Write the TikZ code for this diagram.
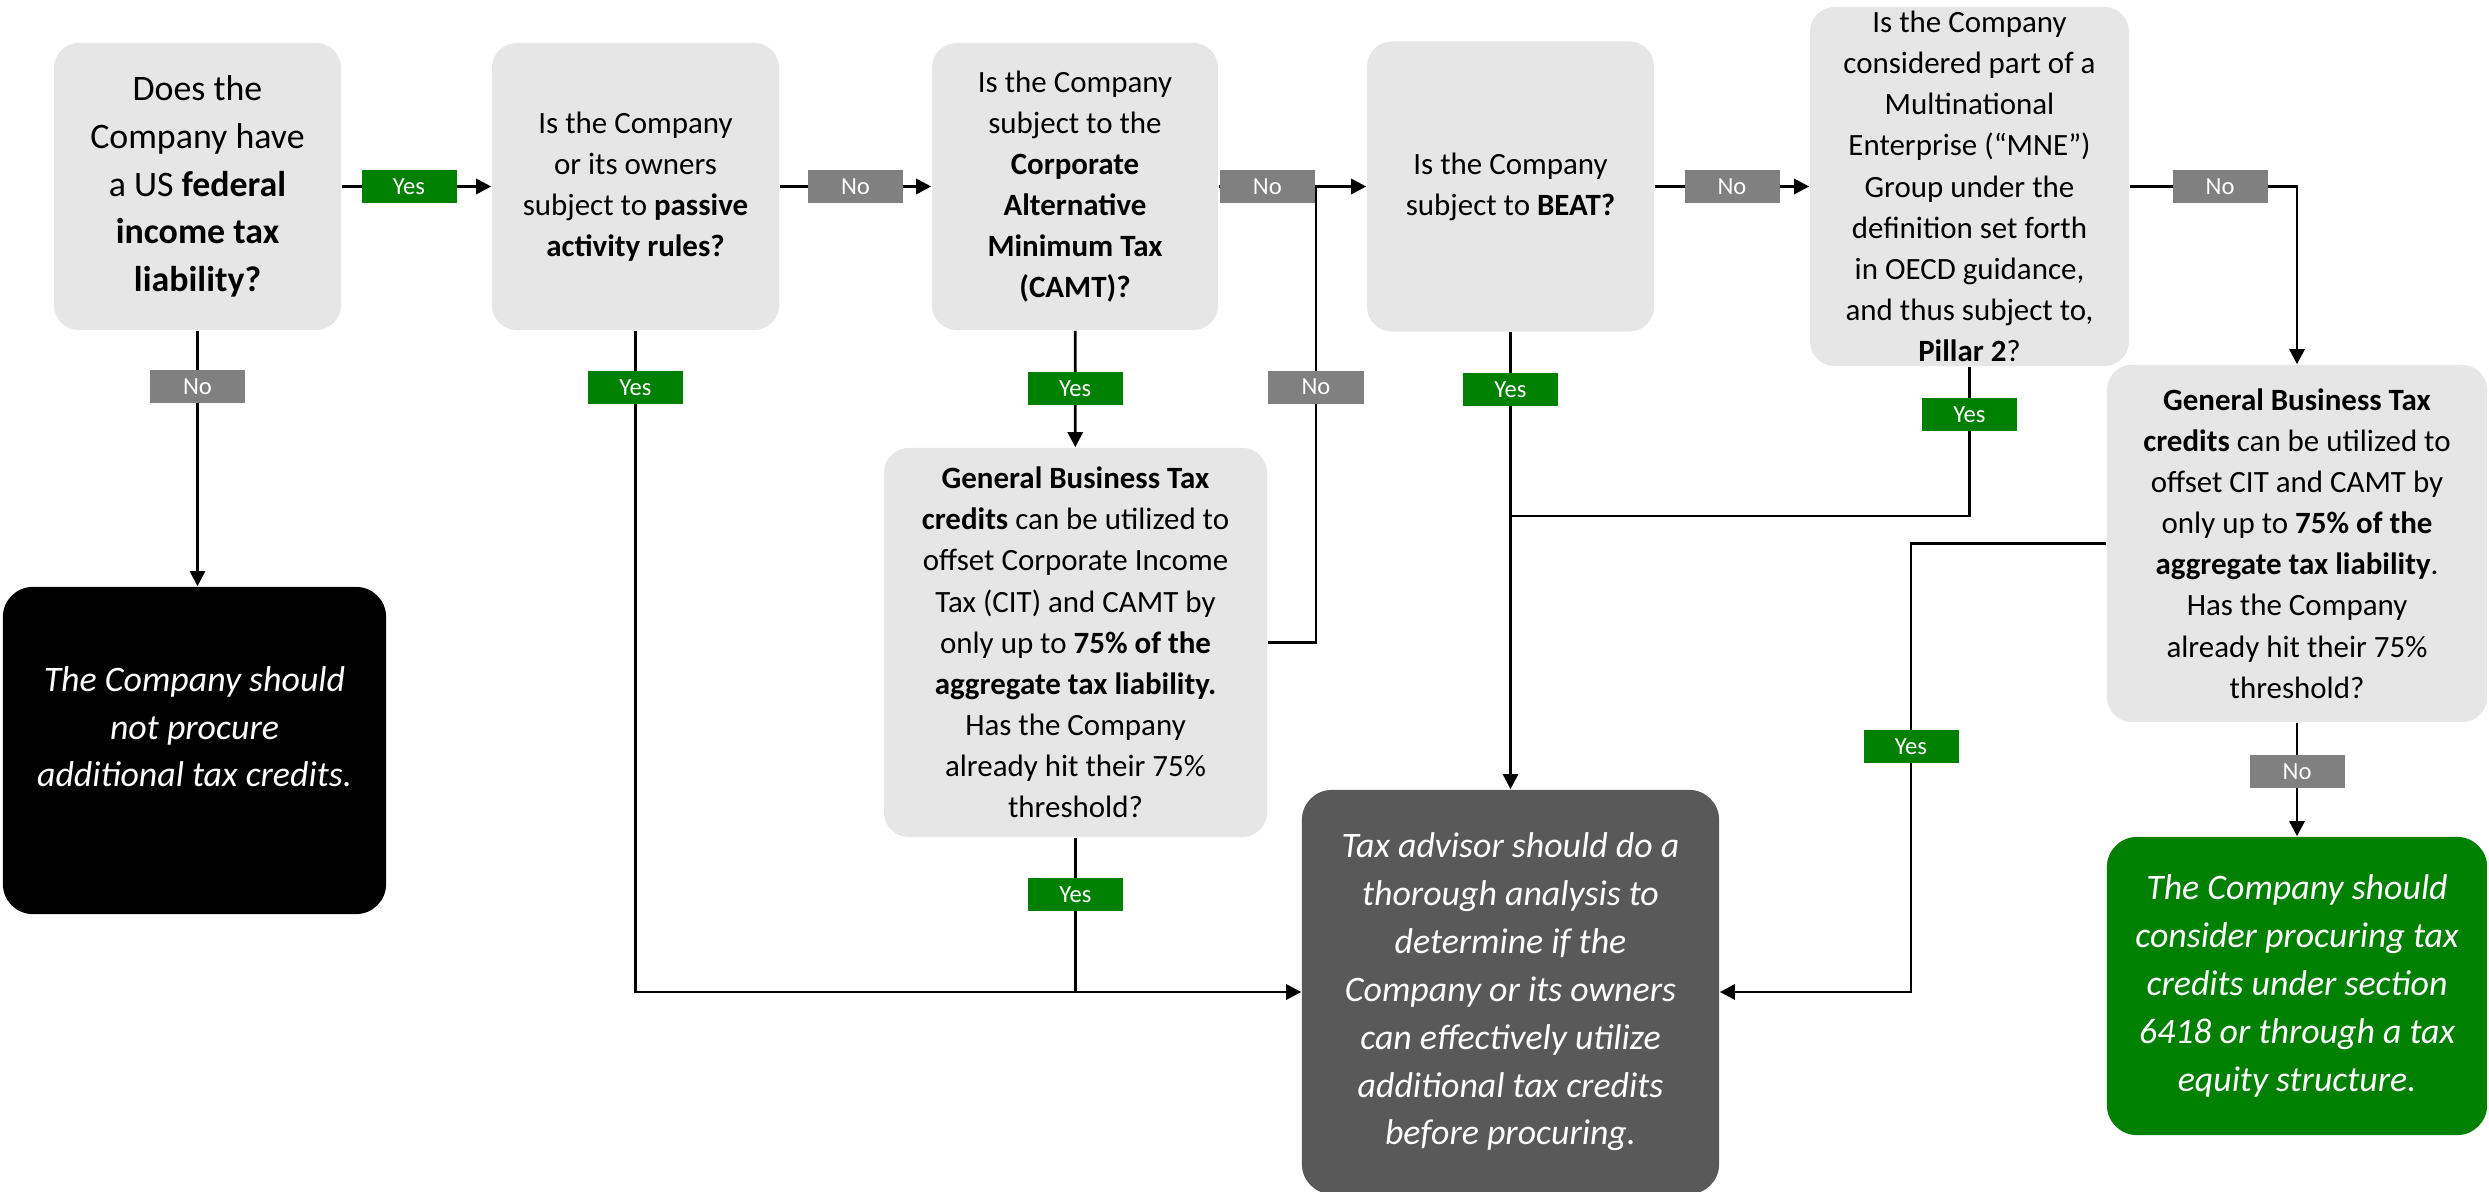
\documentclass[tikz,border=0pt]{standalone}
\usepackage{fontspec}
\setmainfont{Carlito}
\usetikzlibrary{arrows.meta}
\definecolor{boxgray}{HTML}{E6E6E6}
\definecolor{yesgreen}{HTML}{008000}
\definecolor{nogray}{HTML}{808080}
\definecolor{advgray}{HTML}{595959}
\begin{document}
\begin{tikzpicture}[x=0.01cm, y=-0.01cm,
  question/.style={fill=boxgray, rounded corners=0.25cm, align=center, inner sep=0pt,
    font=\fontsize{8.8}{11.7}\selectfont},
  bigquestion/.style={question, font=\fontsize{10.2}{13.6}\selectfont},
  outcome/.style={rounded corners=0.3cm, align=center, inner sep=0pt, text=white,
    font=\fontsize{10.2}{13.6}\selectfont\itshape},
  yeslab/.style={fill=yesgreen, text=white, minimum width=0.95cm, minimum height=0.33cm,
    inner sep=0pt, font=\fontsize{7}{8}\selectfont},
  nolab/.style={yeslab, fill=nogray},
  link/.style={line width=0.8pt},
  flow/.style={link, -{Triangle[length=0.15cm, width=0.15cm]}}]

\useasboundingbox (0,0) rectangle (2489,1192);

\node[bigquestion, minimum width=2.87cm, minimum height=2.87cm] (liab) at (197.5,186.5)
  {Does the\\Company have\\a US \textbf{federal}\\\textbf{income tax}\\\textbf{liability?}};
\node[question, minimum width=2.87cm, minimum height=2.87cm] (pass) at (635.5,186.5)
  {Is the Company\\or its owners\\subject to \textbf{passive}\\\textbf{activity rules?}};
\node[question, minimum width=2.86cm, minimum height=2.87cm] (camt) at (1075,186.5)
  {Is the Company\\subject to the\\\textbf{Corporate}\\\textbf{Alternative}\\\textbf{Minimum Tax}\\\textbf{(CAMT)?}};
\node[question, minimum width=2.87cm, minimum height=2.90cm] (beat) at (1510.5,186.5)
  {Is the Company\\subject to \textbf{BEAT?}};
\node[question, minimum width=3.19cm, minimum height=3.59cm] (mne) at (1969.5,186.5)
  {Is the Company\\considered part of a\\Multinational\\Enterprise (“MNE”)\\Group under the\\definition set forth\\in OECD guidance,\\and thus subject to,\\\textbf{Pillar 2}?};
\node[question, minimum width=3.80cm, minimum height=3.57cm] (gbt) at (2297,543.5)
  {\textbf{General Business Tax}\\\textbf{credits} can be utilized to\\offset CIT and CAMT by\\only up to \textbf{75\% of the}\\\textbf{aggregate tax liability}.\\Has the Company\\already hit their 75\%\\threshold?};
\node[question, minimum width=3.83cm, minimum height=3.89cm] (cgbt) at (1075.5,642.5)
  {\textbf{General Business Tax}\\\textbf{credits} can be utilized to\\offset Corporate Income\\Tax (CIT) and CAMT by\\only up to \textbf{75\% of the}\\\textbf{aggregate tax liability.}\\Has the Company\\already hit their 75\%\\threshold?};

\node[outcome, fill=black, minimum width=3.83cm, minimum height=3.27cm] (stop) at (194.5,750.5)
  {The Company should\\not procure\\additional tax credits.\\\mbox{}};
\node[outcome, fill=advgray, minimum width=4.17cm, minimum height=4.04cm] (advise) at (1510.5,992)
  {Tax advisor should do a\\thorough analysis to\\determine if the\\Company or its owners\\can effectively utilize\\additional tax credits\\before procuring.};
\node[outcome, fill=yesgreen, minimum width=3.80cm, minimum height=2.98cm] (go) at (2297,986)
  {The Company should\\consider procuring tax\\credits under section\\6418 or through a tax\\equity structure.};

\coordinate (j34) at (1316,186.5);
\coordinate (j5) at (1510.5,516);
\coordinate (j6) at (1911,992);

\draw[flow] (liab) -- node[yeslab, pos=0.45] (y1) {Yes} (pass);
\draw[flow] (pass) -- node[nolab] (n2) {No} (camt);
\draw[flow] (camt.east) -- node[nolab] (n3) {No} (j34) -- (beat.west);
\draw[link] (cgbt.east) -| node[nolab, pos=0.78] (n7) {No} (j34);
\draw[flow] (beat) -- node[nolab] (n4) {No} (mne);
\draw[flow] (mne.east) -| node[nolab, pos=0.27] (n5) {No} (gbt.north);

\draw[flow] (liab.south) -- node[nolab, pos=0.22] (n1) {No} (liab.south |- stop.north);
\draw[flow] (pass.south) |- node[yeslab, pos=0.043] (y2) {Yes} (advise.west);
\draw[flow] (camt) -- node[yeslab] (y3) {Yes} (cgbt);
\draw[link] (cgbt.south) -- node[yeslab, pos=0.37] (y7) {Yes} (cgbt.south |- advise.west);
\draw[flow] (beat) -- node[yeslab, pos=0.125] (y4) {Yes} (advise);
\draw[link] (mne.south) |- node[yeslab, pos=0.16] (y5) {Yes} (j5);
\draw[flow] (gbt.west) -| node[yeslab, pos=0.726] (y6) {Yes} (j6) -- (advise.east);
\draw[flow] (gbt) -- node[nolab, pos=0.43] (n6) {No} (go);
\end{tikzpicture}
\end{document}
